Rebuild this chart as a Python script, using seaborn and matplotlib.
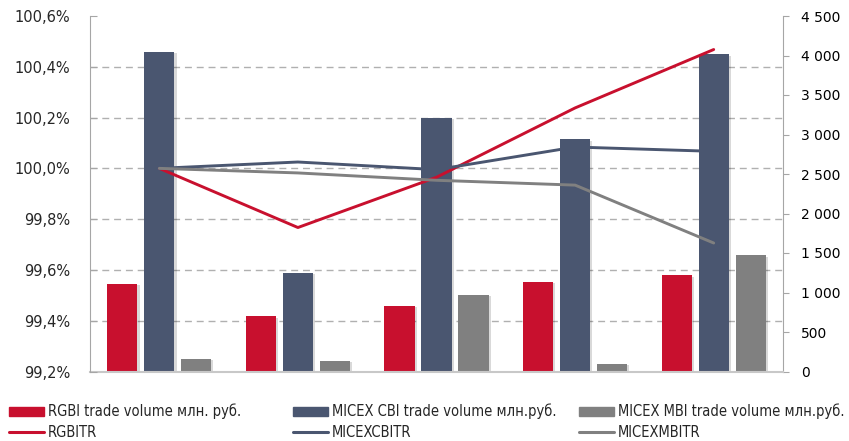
import matplotlib
matplotlib.use("Agg")
import matplotlib.pyplot as plt
import matplotlib.ticker as mticker
from matplotlib.patches import Patch
from matplotlib.lines import Line2D
import matplotlib.patheffects as pe
import seaborn as sns
import pandas as pd

dates = ["14.10", "15.10", "16.10", "17.10", "18.10"]
rgbi_volume = [1112, 701, 833, 1132, 1217]
cbi_volume = [4048, 1251, 3211, 2937, 4015]
mbi_volume = [161, 139, 972, 97, 1470]
rgbitr = [100.0, 99.767, 99.965, 100.238, 100.468]
micexcbitr = [100.0, 100.025, 99.995, 100.084, 100.067]
micexmbitr = [100.0, 99.982, 99.953, 99.934, 99.706]

bar_names = ["RGBI trade volume млн. руб.", "MICEX CBI trade volume млн.руб.",
             "MICEX MBI trade volume млн.руб."]
line_names = ["RGBITR", "MICEXCBITR", "MICEXMBITR"]
colors = ["#C8102E", "#4A5670", "#808080"]

bars_df = pd.DataFrame({
    "date": dates * 3,
    "series": [bar_names[0]] * 5 + [bar_names[1]] * 5 + [bar_names[2]] * 5,
    "value": rgbi_volume + cbi_volume + mbi_volume,
})
lines_df = pd.DataFrame({
    "date": dates * 3,
    "x": list(range(5)) * 3,
    "series": [line_names[0]] * 5 + [line_names[1]] * 5 + [line_names[2]] * 5,
    "value": rgbitr + micexcbitr + micexmbitr,
})

sns.set_style("white")
plt.rcParams["font.family"] = ["DejaVu Sans"]

fig = plt.figure(figsize=(8.49, 4.41), dpi=100)
W, H = 849, 441
rect = [90 / W, (H - 371.5) / H, (783 - 90) / W, (371.5 - 16) / H]

axG = fig.add_axes(rect)          # grid only (bottom)
axB = axG.twinx()                 # bars (right scale)
axL = axG.twinx()                 # lines (left scale)
axG.set_zorder(0)
axB.set_zorder(1)
axL.set_zorder(2)
axB.patch.set_visible(False)
axL.patch.set_visible(False)

ylo, yhi = 99.2, 100.6

# grid axis
axG.set_ylim(ylo, yhi)
axG.set_xlim(-0.5, 4.5)
axG.yaxis.set_major_locator(mticker.MultipleLocator(0.2))
axG.grid(axis="y", color="#B0B0B0", linestyle=(0, (5, 3.5)), linewidth=1.0)
axG.tick_params(left=False, bottom=False, labelbottom=False, labelleft=False)
for s in axG.spines.values():
    s.set_visible(False)
fig.canvas.draw()
for tick in axG.yaxis.get_major_ticks():
    v = tick.get_loc()
    if abs(v - ylo) < 1e-6 or abs(v - yhi) < 1e-6:
        tick.gridline.set_visible(False)

# bars
sns.barplot(data=bars_df, x="date", y="value", hue="series", palette=colors,
            width=0.8, gap=0.18, ax=axB, legend=False, saturation=1, linewidth=0)
shadow = [pe.SimplePatchShadow(offset=(1.5, -1.0), shadow_rgbFace="#000000", alpha=0.15), pe.Normal()]
for p in axB.patches:
    p.set_path_effects(shadow)
axB.set_ylim(0, 4500)
axB.set_xlim(-0.5, 4.5)
axB.yaxis.set_major_locator(mticker.MultipleLocator(500))
axB.yaxis.set_major_formatter(mticker.FuncFormatter(lambda v, _: f"{int(v):,}".replace(",", " ")))
axB.yaxis.tick_right()
axB.yaxis.set_label_position("right")
axB.set_xlabel("")
axB.set_ylabel("")
axB.tick_params(axis="y", direction="out", length=4, color="#A6A6A6", labelsize=10, pad=9, labelcolor="black")
axB.tick_params(axis="x", length=0, labelsize=8.5, pad=11)
for side in ["top", "left"]:
    axB.spines[side].set_visible(False)
axB.spines["right"].set_color("#A6A6A6")
axB.spines["bottom"].set_color("#C8C8C8")
axB.spines["bottom"].set_linewidth(1.5)

# lines
sns.lineplot(data=lines_df, x="x", y="value", hue="series", palette=colors,
             ax=axL, legend=False, linewidth=2.1)
axL.set_ylim(ylo, yhi)
axL.set_xlim(-0.5, 4.5)
axL.yaxis.set_major_locator(mticker.MultipleLocator(0.2))
axL.yaxis.set_major_formatter(mticker.FuncFormatter(lambda v, _: f"{v:.1f}".replace(".", ",") + "%"))
axL.yaxis.tick_left()
axL.yaxis.set_label_position("left")
axL.set_xlabel("")
axL.set_ylabel("")
axL.tick_params(axis="y", direction="in", length=5, color="#A6A6A6", labelsize=10.5, pad=14)
axL.tick_params(axis="x", bottom=False, labelbottom=False)
for side in ["top", "right", "bottom"]:
    axL.spines[side].set_visible(False)
axL.spines["left"].set_color("#A6A6A6")

# legends: three columns
col_x = [8, 292, 578]
leg_font = {"family": ["DejaVu Sans"], "stretch": "condensed", "size": 10.5}
for i in range(3):
    handles = [Patch(facecolor=colors[i], edgecolor=colors[i]),
               Line2D([0], [0], color=colors[i], linewidth=2.2)]
    leg = fig.legend(handles, [bar_names[i], line_names[i]],
                     loc="upper left", bbox_to_anchor=(col_x[i] / W - 0.006, 1 - 398 / H),
                     frameon=False, handlelength=2.4, handleheight=0.55,
                     handletextpad=0.3, labelspacing=0.35, borderaxespad=0,
                     prop=leg_font)

fig.savefig("out.png", dpi=100, facecolor="white")
